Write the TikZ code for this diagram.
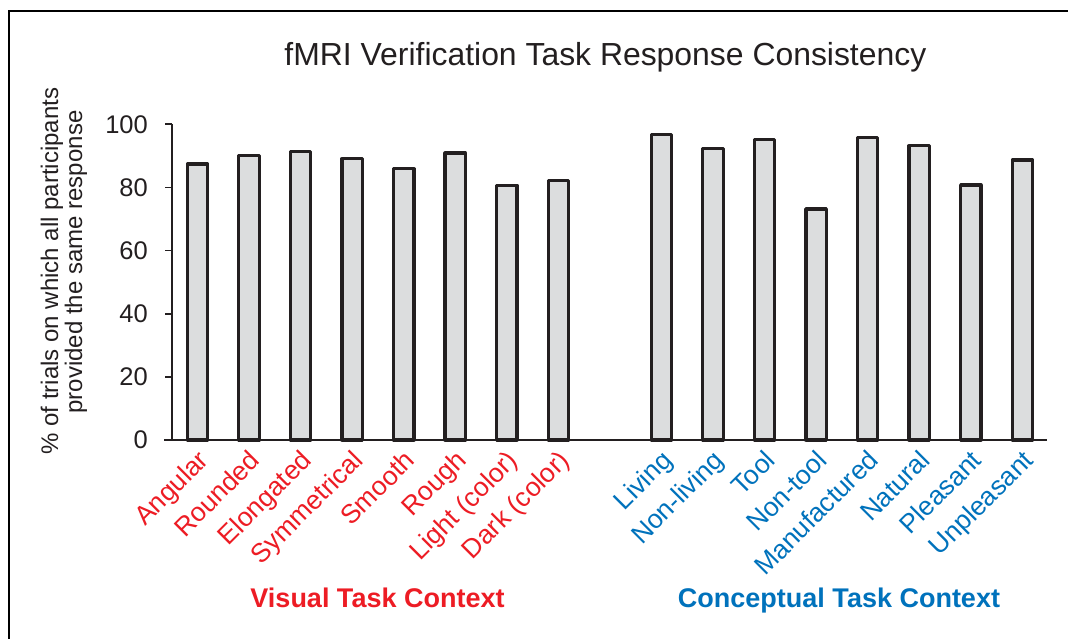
\documentclass[tikz,border=0pt]{standalone}
\usepackage{fontspec}
\setmainfont{Liberation Sans}
\definecolor{vred}{HTML}{ED1C24}
\definecolor{cblue}{HTML}{0072BC}
\definecolor{ink}{HTML}{231F20}
\definecolor{barfill}{HTML}{DCDDDE}
\begin{document}
\begin{tikzpicture}[x=1pt,y=-1pt,
  frame/.style={draw=black, line width=1.4pt},
  axisline/.style={draw=ink, line width=1.6pt},
  barbox/.style={draw=ink, fill=barfill, line width=3.2pt, line join=round},
  ticklab/.style={anchor=east, inner sep=0pt, text=ink, font=\fontsize{25.5}{30}\selectfont},
  vlab/.style={anchor=base east, inner sep=0pt, rotate=45, text=vred, font=\fontsize{26.5}{30}\selectfont},
  clab/.style={anchor=base east, inner sep=0pt, rotate=45, text=cblue, font=\fontsize{26.5}{30}\selectfont},
  ylab/.style={inner sep=0pt, rotate=90, text=ink, font=\fontsize{24}{28}\selectfont},
  grouplab/.style={anchor=base, inner sep=0pt, font=\bfseries\fontsize{27}{31}\selectfont},
  titlelab/.style={anchor=base, inner sep=0pt, text=ink, font=\fontsize{31.9}{36}\selectfont}]
\useasboundingbox (0,0) rectangle (1068,639);
\fill[white] (0,0) rectangle (1068,639);
% frame
\coordinate (fbl) at (9,639);
\coordinate (ftl) at (9,11);
\coordinate (ftr) at (1068,11);
\draw[frame] (fbl) -- (ftl) -- (ftr);
% title
\node[titlelab] (title) at (605.4,66) {fMRI Verification Task Response Consistency};
% y label
\node[ylab] (yl1) at (52,271) {\% of trials on which all participants};
\node[ylab] (yl2) at (76,262) {provided the same response};
% axes
\coordinate (ytop) at (172,124.3);
\coordinate (yorg) at (172,440);
\coordinate (xl) at (164,440);
\coordinate (xr) at (1047,440);
\draw[axisline] (ytop) -- (yorg);
\draw[axisline] (xl) -- (xr);
\foreach \v in {0,20,40,60,80,100} {
  \pgfmathsetmacro\yy{440-3.157*\v}
  \draw[axisline] (165,\yy) -- (172,\yy);
  \node[ticklab] (tick\v) at (148,\yy) {\v};
}
% visual bars
\foreach \i/\v/\t in {0/87.4/Angular,1/90.1/Rounded,2/91.4/Elongated,3/89.1/Symmetrical,4/85.9/Smooth,5/90.9/Rough,6/80.7/Light (color),7/82.3/Dark (color)} {
  \pgfmathsetmacro\xc{197.5+51.55*\i}
  \pgfmathsetmacro\yt{440-3.157*\v}
  \draw[barbox] (\xc-10.2,440) rectangle (\xc+10.2,\yt);
  \node[vlab] (vl\i) at (\xc+12.5,462) {\t};
}
% conceptual bars
\foreach \i/\v/\t in {9/96.8/Living,10/92.3/Non-living,11/95.3/Tool,12/73.2/Non-tool,13/95.8/Manufactured,14/93.2/Natural,15/80.8/Pleasant,16/88.7/Unpleasant} {
  \pgfmathsetmacro\xc{197.5+51.55*\i}
  \pgfmathsetmacro\yt{440-3.157*\v}
  \draw[barbox] (\xc-10.2,440) rectangle (\xc+10.2,\yt);
  \node[clab] (cl\i) at (\xc+12.5,462) {\t};
}
% group labels
\node[grouplab, text=vred] (gvis) at (377.5,607.5) {Visual Task Context};
\node[grouplab, text=cblue] (gcon) at (839,607) {Conceptual Task Context};
\end{tikzpicture}
\end{document}
